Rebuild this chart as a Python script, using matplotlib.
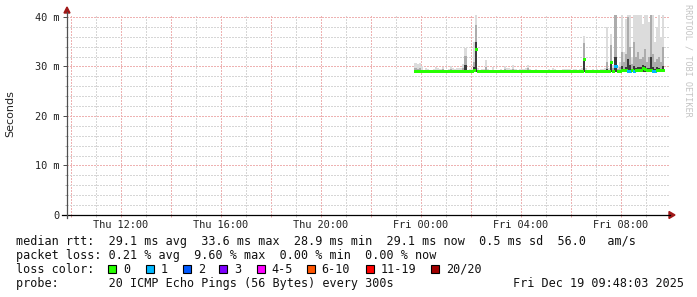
import matplotlib
matplotlib.use("Agg")
import matplotlib.pyplot as plt
import matplotlib.dates as mdates
import pandas as pd
from matplotlib.lines import Line2D
from matplotlib.patches import Rectangle, Polygon
from matplotlib.ticker import MultipleLocator, FuncFormatter

# ---------------- data ----------------
start_time = "2025-12-18 23:45"
step_minutes = 5
view_start = "2025-12-18 09:51"
view_end = "2025-12-19 09:56"

rtt_med = [
    29.0, 29.0, 29.1, 29.0, 29.0, 29.0, 29.0, 29.0, 29.0, 29.0,
    29.0, 29.0, 29.0, 29.0, 29.0, 29.0, 29.0, 29.0, 29.0, 29.0,
    29.0, 29.0, 29.0, 29.0, 29.1, 29.0, 29.0, 29.0, 29.3, 33.5,
    29.0, 29.0, 29.0, 29.0, 29.0, 29.0, 29.0, 29.0, 29.0, 29.0,
    29.0, 29.0, 29.0, 29.0, 29.0, 29.0, 29.0, 29.0, 29.0, 29.0,
    29.0, 29.0, 29.0, 29.0, 29.0, 29.0, 29.0, 29.0, 29.0, 29.0,
    29.0, 29.0, 29.0, 29.0, 29.0, 29.0, 29.0, 29.0, 29.0, 29.0,
    29.0, 29.0, 29.0, 29.0, 29.0, 29.0, 29.0, 29.0, 29.0, 29.0,
    29.0, 31.6, 29.0, 29.0, 29.0, 29.0, 29.0, 29.0, 29.0, 29.0,
    29.0, 29.0, 29.1, 29.0, 31.0, 29.0, 30.1, 29.0, 29.0, 29.3,
    29.3, 29.2, 29.0, 29.0, 29.2, 29.0, 29.3, 29.3, 29.3, 29.6,
    29.5, 29.3, 29.3, 29.2, 29.0, 29.0, 29.3, 29.3, 29.2, 29.3,
]

loss = [
    0, 0, 0, 0, 0, 0, 0, 0, 0, 0,
    0, 0, 0, 0, 0, 0, 0, 0, 0, 0,
    0, 0, 0, 0, 0, 0, 0, 0, 0, 0,
    0, 0, 0, 0, 0, 0, 0, 0, 0, 0,
    0, 0, 0, 0, 0, 0, 0, 0, 0, 0,
    0, 0, 0, 0, 0, 0, 0, 0, 0, 0,
    0, 0, 0, 0, 0, 0, 0, 0, 0, 0,
    0, 0, 0, 0, 0, 0, 0, 0, 0, 0,
    0, 0, 0, 0, 0, 0, 0, 0, 0, 0,
    0, 0, 0, 0, 0, 0, 1, 0, 0, 0,
    0, 0, 1, 1, 0, 1, 0, 0, 0, 0,
    0, 0, 0, 0, 1, 1, 0, 0, 0, 0,
]

rtt_min = [
    28.8, 28.8, 28.8, 28.8, 28.8, 28.8, 28.8, 28.8, 28.8, 28.8,
    28.8, 28.8, 28.8, 28.8, 28.8, 28.8, 28.8, 28.8, 28.8, 28.8,
    28.8, 28.8, 28.8, 28.8, 28.8, 28.8, 28.8, 28.8, 28.9, 28.9,
    28.8, 28.8, 28.8, 28.8, 28.8, 28.8, 28.8, 28.8, 28.8, 28.8,
    28.8, 28.8, 28.8, 28.8, 28.8, 28.8, 28.8, 28.8, 28.8, 28.8,
    28.8, 28.8, 28.8, 28.8, 28.8, 28.8, 28.8, 28.8, 28.8, 28.8,
    28.8, 28.8, 28.8, 28.8, 28.8, 28.8, 28.8, 28.8, 28.8, 28.8,
    28.8, 28.8, 28.8, 28.8, 28.8, 28.8, 28.8, 28.8, 28.8, 28.8,
    28.8, 28.9, 28.8, 28.8, 28.8, 28.8, 28.8, 28.8, 28.8, 28.8,
    28.8, 28.8, 28.8, 28.8, 28.9, 28.8, 28.9, 28.8, 28.8, 28.9,
    28.9, 28.9, 28.9, 28.9, 28.8, 28.9, 28.9, 28.9, 28.9, 28.9,
    28.9, 28.9, 28.9, 28.9, 28.9, 28.9, 28.9, 28.9, 28.9, 28.9,
]

smoke_max = [
    30.7, 30.5, 30.8, 30.1, 29.3, 29.6, 29.5, 29.3, 29.2, 29.4,
    29.8, 29.7, 29.4, 29.9, 29.3, 29.3, 29.4, 30.1, 29.6, 29.4,
    29.6, 29.7, 29.6, 30.6, 33.8, 29.3, 29.4, 29.5, 35.0, 41.0,
    29.6, 29.3, 29.4, 29.5, 31.3, 29.4, 29.3, 29.8, 29.3, 29.2,
    29.3, 29.4, 29.3, 30.1, 29.6, 29.7, 29.4, 30.2, 29.4, 29.3,
    29.5, 29.5, 29.5, 29.6, 30.3, 29.4, 29.3, 29.3, 29.4, 29.3,
    29.3, 29.2, 29.3, 29.3, 29.4, 29.3, 29.7, 29.4, 29.3, 29.3,
    29.3, 29.5, 29.5, 29.5, 29.5, 29.3, 29.5, 29.4, 29.3, 29.4,
    29.6, 36.1, 29.6, 29.3, 29.3, 29.4, 29.3, 29.4, 29.3, 29.4,
    29.5, 29.6, 37.9, 29.7, 36.5, 30.2, 41.0, 30.0, 31.0, 41.0,
    33.0, 39.5, 41.0, 41.0, 32.0, 41.0, 41.0, 41.0, 41.0, 38.5,
    41.0, 41.0, 39.0, 41.0, 41.0, 35.0, 38.0, 41.0, 36.0, 41.0,
]

smoke_mid = [
    29.6, 29.5, 29.7, 29.3, 29.1, 29.2, 29.2, 29.1, 29.1, 29.1,
    29.3, 29.3, 29.1, 29.4, 29.1, 29.1, 29.1, 29.4, 29.2, 29.1,
    29.2, 29.3, 29.2, 29.6, 32.2, 29.1, 29.1, 29.2, 31.0, 38.4,
    29.2, 29.1, 29.1, 29.2, 29.8, 29.1, 29.1, 29.3, 29.1, 29.1,
    29.1, 29.1, 29.1, 29.5, 29.2, 29.3, 29.1, 29.5, 29.1, 29.1,
    29.2, 29.2, 29.2, 29.2, 29.6, 29.1, 29.1, 29.1, 29.1, 29.1,
    29.1, 29.1, 29.1, 29.1, 29.1, 29.1, 29.3, 29.1, 29.1, 29.1,
    29.1, 29.2, 29.2, 29.2, 29.2, 29.1, 29.2, 29.1, 29.1, 29.1,
    29.2, 34.8, 29.2, 29.1, 29.1, 29.1, 29.1, 29.1, 29.1, 29.1,
    29.2, 29.2, 31.0, 29.3, 34.3, 29.6, 40.5, 29.5, 29.8, 33.0,
    31.0, 32.5, 40.0, 34.0, 30.5, 35.0, 32.0, 33.0, 31.5, 32.0,
    33.5, 31.0, 32.0, 40.5, 32.5, 31.0, 31.5, 32.0, 31.0, 34.0,
]

smoke_dark = [
    29.2, 29.1, 29.2, 29.0, 29.0, 29.0, 29.0, 29.0, 29.0, 29.0,
    29.0, 29.0, 29.0, 29.0, 29.0, 29.0, 29.0, 29.0, 29.0, 29.0,
    29.0, 29.0, 29.0, 29.1, 30.2, 29.0, 29.0, 29.0, 29.8, 35.0,
    29.0, 29.0, 29.0, 29.0, 29.1, 29.0, 29.0, 29.0, 29.0, 29.0,
    29.0, 29.0, 29.0, 29.0, 29.0, 29.0, 29.0, 29.0, 29.0, 29.0,
    29.0, 29.0, 29.0, 29.0, 29.1, 29.0, 29.0, 29.0, 29.0, 29.0,
    29.0, 29.0, 29.0, 29.0, 29.0, 29.0, 29.0, 29.0, 29.0, 29.0,
    29.0, 29.0, 29.0, 29.0, 29.0, 29.0, 29.0, 29.0, 29.0, 29.0,
    29.0, 31.7, 29.0, 29.0, 29.0, 29.0, 29.0, 29.0, 29.0, 29.0,
    29.0, 29.0, 29.5, 29.0, 31.1, 29.1, 32.0, 29.1, 29.2, 30.0,
    29.5, 29.8, 31.5, 30.2, 29.4, 30.0, 29.6, 29.9, 29.8, 30.4,
    30.0, 29.6, 29.7, 32.0, 29.8, 29.5, 29.8, 29.7, 29.5, 30.0,
]

y_ticks = [0, 10, 20, 30, 40]
y_tick_labels = ["0", "10 m", "20 m", "30 m", "40 m"]

loss_labels = ["0", "1", "2", "3", "4-5", "6-10", "11-19", "20/20"]
loss_colors = ["#26ff00", "#00b8ff", "#0059ff", "#7e00ff",
               "#ff00ff", "#ff5500", "#ff0000", "#a10000"]

stats_line1 = "median rtt:  29.1 ms avg  33.6 ms max  28.9 ms min  29.1 ms now  0.5 ms sd  56.0   am/s"
stats_line2 = "packet loss: 0.21 % avg  9.60 % max  0.00 % min  0.00 % now"
stats_line4 = "probe:       20 ICMP Echo Pings (56 Bytes) every 300s"
timestamp = "Fri Dec 19 09:48:03 2025"

# ---------------- figure ----------------
W, H = 697, 297
fig = plt.figure(figsize=(W / 100, H / 100), dpi=100)
fig.patch.set_facecolor("white")
MONO = "DejaVu Sans Mono"


def fx(x):
    return x / W


def fy(y):
    return 1 - y / H


ax = fig.add_axes([fx(67), fy(215), (669 - 67) / W, 200 / H])
ax.set_facecolor("white")

times = pd.date_range(start_time, periods=len(rtt_med), freq=f"{step_minutes}min")
t = mdates.date2num(times.to_pydatetime())
step = step_minutes / 1440.0


def loss_color(n):
    if n == 0:
        return loss_colors[0]
    if n == 1:
        return loss_colors[1]
    if n == 2:
        return loss_colors[2]
    if n == 3:
        return loss_colors[3]
    if n <= 5:
        return loss_colors[4]
    if n <= 10:
        return loss_colors[5]
    if n <= 19:
        return loss_colors[6]
    return loss_colors[7]


# smoke
for top, col in ((smoke_max, "#dcdcdc"), (smoke_mid, "#acacac"), (smoke_dark, "#3a3a3a")):
    heights = [max(a - b, 0) for a, b in zip(top, rtt_min)]
    ax.bar(t, heights, bottom=rtt_min, width=step, align="edge",
           color=col, linewidth=0, zorder=2)

# median band
ax.hlines(rtt_med, t, t + step, colors=[loss_color(n) for n in loss],
          linewidth=2.0, zorder=3, antialiased=False)

ax.set_xlim(mdates.date2num(pd.Timestamp(view_start)), mdates.date2num(pd.Timestamp(view_end)))
ax.set_ylim(0, 40.4)

ax.yaxis.set_major_locator(MultipleLocator(10))
ax.yaxis.set_minor_locator(MultipleLocator(2))
ax.set_yticks(y_ticks)
ax.set_yticklabels(y_tick_labels)

ax.xaxis.set_major_locator(mdates.HourLocator(byhour=range(0, 24, 2)))
ax.xaxis.set_minor_locator(mdates.HourLocator())


def xfmt(v, pos):
    d = mdates.num2date(v)
    return d.strftime("%a %H:%M") if d.hour % 4 == 0 else ""


ax.xaxis.set_major_formatter(FuncFormatter(xfmt))

ax.set_axisbelow(True)
ax.grid(which="major", color="#eeb2b2", linestyle=(0, (1.39, 1.39)), linewidth=0.72,
        antialiased=False)
ax.grid(which="minor", color="#d6d6d6", linestyle=(0, (1.39, 1.39)), linewidth=0.72,
        antialiased=False)

for s in ax.spines.values():
    s.set_visible(False)

ax.tick_params(axis="y", which="major", length=2.9, width=0.72, color="#505050",
               pad=2.2, labelsize=7.4, labelcolor="#222222")
ax.tick_params(axis="y", which="minor", length=1.4, width=0.72, color="#b0b0b0")
ax.tick_params(axis="x", which="major", length=1.5, width=0.72, color="#e8a0a0",
               pad=2.2, labelsize=7.4, labelcolor="#222222")
ax.tick_params(axis="x", which="minor", length=1.5, width=0.72, color="#c8c8c8")
for lab in ax.get_xticklabels() + ax.get_yticklabels():
    lab.set_family(MONO)

# axis lines + arrows
fig.add_artist(Line2D([fx(62), fx(670)], [fy(215), fy(215)], color="#000000", lw=0.9))
fig.add_artist(Line2D([fx(67), fx(67)], [fy(218), fy(12)], color="#505050", lw=0.9))
fig.add_artist(Polygon([(fx(64), fy(13)), (fx(70), fy(13)), (fx(67), fy(7))],
                       closed=True, color="#a01818", transform=fig.transFigure))
fig.add_artist(Polygon([(fx(669), fy(211.5)), (fx(669), fy(218.5)), (fx(675), fy(215))],
                       closed=True, color="#a01818", transform=fig.transFigure))

# labels
fig.text(fx(10), fy(114), "Seconds", rotation=90, ha="center", va="center",
         fontsize=8, family="DejaVu Sans", color="#222222")
fig.text(fx(688), fy(60), "RRDTOOL / TOBI OETIKER", rotation=270, ha="center",
         va="center", fontsize=6.1, family=MONO, color="#c4c4c4")

# legend / stats text
TS = 8.5
fig.text(fx(16), fy(245), stats_line1, ha="left", va="baseline", fontsize=TS, family=MONO, color="#111111")
fig.text(fx(16), fy(259.3), stats_line2, ha="left", va="baseline", fontsize=TS, family=MONO, color="#111111")
fig.text(fx(16), fy(273), "loss color:", ha="left", va="baseline", fontsize=TS, family=MONO, color="#111111")
fig.text(fx(16), fy(287), stats_line4, ha="left", va="baseline", fontsize=TS, family=MONO, color="#111111")
fig.text(fx(513), fy(287), timestamp, ha="left", va="baseline", fontsize=TS, family=MONO, color="#111111")

sq_x = [108.3, 145.7, 182.7, 219.3, 256.7, 306.7, 365.7, 430.7]
for x, lab, col in zip(sq_x, loss_labels, loss_colors):
    fig.add_artist(Rectangle((fx(x), fy(273.3)), 8 / W, 8 / H, transform=fig.transFigure,
                             facecolor=col, edgecolor="#000000", linewidth=0.8))
    fig.text(fx(x + 15), fy(273), lab, ha="left", va="baseline", fontsize=TS,
             family=MONO, color="#111111")

fig.savefig("out.png", dpi=100, facecolor="white")
